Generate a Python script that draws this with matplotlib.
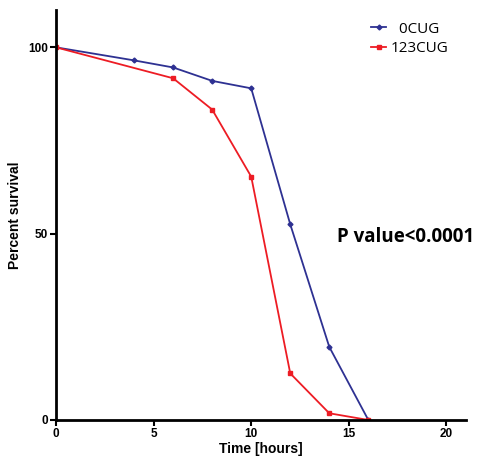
"""
Survival curve: 0CUG vs 123CUG.
"""

import matplotlib.pyplot as plt
from matplotlib.lines import Line2D

# data
time_0cug = [0, 4, 6, 8, 10, 12, 14, 16]
surv_0cug = [100, 96.5, 94.6, 91.0, 89.0, 52.5, 19.6, 0]
time_123cug = [0, 6, 8, 10, 12, 14, 16]
surv_123cug = [100, 91.7, 83.3, 65.3, 12.5, 1.8, 0]
x_ticks = [0, 5, 10, 15, 20]
y_ticks = [0, 50, 100]

blue = "#2e3192"
red = "#ed1c24"

fig = plt.figure(figsize=(4.8, 4.58), dpi=100)
ax = fig.add_axes([0.1167, 0.083, 0.854, 0.895])

ax.plot(time_0cug, surv_0cug, color=blue, linewidth=1.3, marker="D", markersize=2.5)
ax.plot(time_123cug, surv_123cug, color=red, linewidth=1.3, marker="s", markersize=3)

ax.set_xlim(0, 21)
ax.set_ylim(0, 110)
ax.set_xticks(x_ticks)
ax.set_yticks(y_ticks)
for s in ["top", "right"]:
    ax.spines[s].set_visible(False)
for s in ["left", "bottom"]:
    ax.spines[s].set_linewidth(2)
ax.tick_params(width=1.5, length=4, labelsize=8.5, pad=2)
for lab in ax.get_xticklabels() + ax.get_yticklabels():
    lab.set_fontweight("bold")
    lab.set_family("Liberation Sans")

ax.set_xlabel("Time [hours]", fontsize=10, fontweight="bold", family="Liberation Sans", labelpad=1)
ax.set_ylabel("Percent survival", fontsize=10, fontweight="bold", family="Liberation Sans", labelpad=4)

ax.text(0.686, 0.446, "P value<0.0001", transform=ax.transAxes, fontsize=13.5,
        fontweight="bold", family="Open Sans", va="center")

handles = [Line2D([], [], color=blue, linewidth=1.3, marker="D", markersize=2.5),
           Line2D([], [], color=red, linewidth=1.3, marker="s", markersize=3)]
ax.legend(handles, ["  0CUG", "123CUG"], loc="upper left", bbox_to_anchor=(0.735, 1.005),
          frameon=False, handlelength=1.0, handletextpad=0.3, labelspacing=0.3,
          prop={"family": "Open Sans", "size": 11})

plt.savefig("out.png", dpi=100)
